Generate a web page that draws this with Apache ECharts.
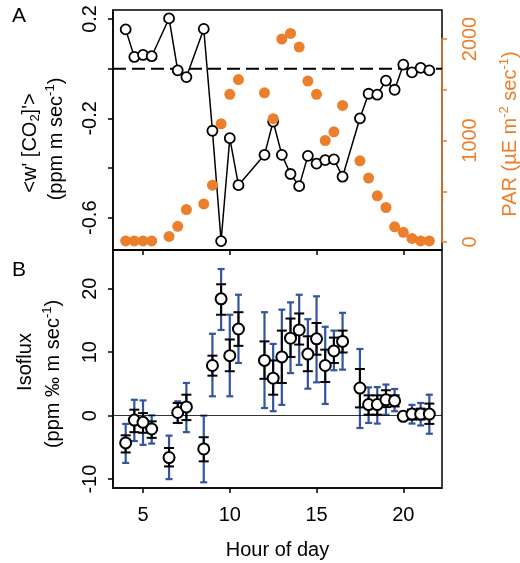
<!DOCTYPE html>
<html>
<head>
<meta charset="utf-8">
<script src="https://cdn.jsdelivr.net/npm/echarts@6.0.0/dist/echarts.min.js"></script>
<style>
  html, body { margin: 0; padding: 0; background: #fff; }
  #chart { width: 520px; height: 563px; }
</style>
</head>
<body>
<div id="chart"></div>
<script>
// hour of day for every sample
var hours = [4, 4.5, 5, 5.5, 6.5, 7, 7.5, 8.5, 9, 9.5, 10, 10.5, 12, 12.5, 13, 13.5, 14, 14.5, 15, 15.5, 16, 16.5, 17.5, 18, 18.5, 19, 19.5, 20, 20.5, 21, 21.5];

// panel A
var co2Flux = [0.158, 0.047, 0.055, 0.05, 0.202, -0.007, -0.034, 0.16, -0.25, -0.694, -0.28, -0.469, -0.347, -0.213, -0.347, -0.424, -0.473, -0.351, -0.382, -0.368, -0.365, -0.435, -0.2, -0.101, -0.105, -0.048, -0.085, 0.016, -0.015, 0.003, -0.007];
var par = [10, 10, 10, 10, 55, 155, 320, 375, 560, 1165, 1455, 1600, 1470, 1215, 2000, 2055, 1920, 1585, 1455, 1000, 1085, 1345, 800, 630, 455, 340, 150, 95, 35, 10, 10];

// panel B
var isoflux = [-4.3, -0.7, -1.05, -2.1, -6.6, 0.5, 1.37, -5.25, 7.9, 18.4, 9.45, 13.65, 8.7, 5.9, 9.25, 12.2, 13.5, 9.7, 12.1, 7.9, 10.2, 11.7, 4.35, 1.75, 1.75, 2.5, 2.35, -0.1, 0.25, 0.25, 0.25];
var seLow = [-5.8, -2.6, -2.7, -3.5, -8.0, -1.15, -0.7, -7.2, 6.3, 15.9, 7.0, 11.0, 5.8, 3.3, 5.15, 9.25, 11.2, 7.0, 9.6, 5.3, 8.3, 9.95, 1.3, 0.15, 0.15, 1.35, 1.45, -0.6, -0.6, -0.6, -1.3];
var seHigh = [-3.1, 0.94, 0.4, -0.9, -5.1, 2.0, 3.3, -3.4, 9.45, 20.7, 12.0, 16.3, 11.7, 8.7, 13.4, 15.3, 16.1, 12.5, 14.6, 10.4, 12.3, 13.4, 7.35, 3.2, 3.2, 4.0, 3.2, 0.3, 0.95, 1.1, 1.9];
var ciLow = [-7.45, -4.0, -4.6, -4.4, -10.0, -1.15, -2.6, -10.5, 3.05, 13.5, 3.05, 8.3, 1.2, 0.7, 1.7, 6.7, 8.0, 4.25, 5.25, 1.85, 7.15, 7.25, -1.95, -1.15, -1.25, 0.15, 0.7, -0.8, -1.25, -1.55, -2.85];
var ciHigh = [-1.3, 2.5, 2.4, 0.05, -3.15, 2.25, 5.15, 0, 12.9, 23.1, 15.9, 19.05, 16.3, 11.3, 16.7, 17.85, 19.05, 15.2, 18.8, 14.0, 13.4, 16.2, 10.5, 4.45, 4.5, 4.9, 4.2, 0.6, 1.7, 2.0, 3.3];

// tick labels
var hourTicks = [5, 10, 15, 20];
var co2Ticks = [0.2, 0, -0.2, -0.4, -0.6];
var co2Labels = [0.2, -0.2, -0.6];
var parLabels = [0, 1000, 2000];
var isoTicks = [-10, 0, 10, 20];

var FONT = 'Liberation Sans, Arial, Helvetica, sans-serif';
var ORANGE = '#EC7F2B';
var BLUE = '#34549E';

function pairs(xs, ys) {
    return xs.map(function (x, i) { return [x, ys[i]]; });
}

var barData = hours.map(function (h, i) {
    return [h, isoflux[i], ciLow[i], ciHigh[i], seLow[i], seHigh[i]];
});

function renderErrorBar(params, api) {
    var h = api.value(0);
    var ciL = api.coord([h, api.value(2)]);
    var ciH = api.coord([h, api.value(3)]);
    var seL = api.coord([h, api.value(4)]);
    var seH = api.coord([h, api.value(5)]);
    var blue = { stroke: BLUE, lineWidth: 2.2 };
    var black = { stroke: '#000', lineWidth: 2 };
    var x = ciL[0];
    function seg(x1, y1, x2, y2, style) {
        return { type: 'line', shape: { x1: x1, y1: y1, x2: x2, y2: y2 }, style: style };
    }
    return {
        type: 'group',
        children: [
            seg(x, ciL[1], x, ciH[1], blue),
            seg(x - 3.5, ciL[1], x + 3.5, ciL[1], blue),
            seg(x - 3.5, ciH[1], x + 3.5, ciH[1], blue),
            seg(x, seL[1], x, seH[1], black),
            seg(x - 5, seL[1], x + 5, seL[1], black),
            seg(x - 5, seH[1], x + 5, seH[1], black)
        ]
    };
}

function vtext(x, y, rich, text, color) {
    return {
        type: 'text', x: x, y: y, rotation: Math.PI / 2,
        style: {
            text: text, rich: rich, fill: color || '#000',
            font: '20px ' + FONT, align: 'center', verticalAlign: 'middle'
        }
    };
}

function richFor(color) {
    return {
        t: { fontSize: 20, fontFamily: FONT, color: color, lineHeight: 24, verticalAlign: 'middle' },
        sub: { fontSize: 13, fontFamily: FONT, color: color, lineHeight: 13, verticalAlign: 'bottom' },
        sup: { fontSize: 13, fontFamily: FONT, color: color, lineHeight: 13, verticalAlign: 'top' }
    };
}

var xMin = 3.27, xMax = 22.23;
var axisText = { fontSize: 20, fontFamily: FONT, color: '#000' };

var chart = echarts.init(document.getElementById('chart'));
chart.setOption({
    animation: false,
    grid: [
        { left: 113, right: 78, top: 10, height: 240, show: true, borderColor: '#000', borderWidth: 1.5 },
        { left: 113, right: 78, top: 39, height: 203 },
        { left: 113, right: 78, top: 250, height: 238, show: true, borderColor: '#000', borderWidth: 1.5 }
    ],
    xAxis: [
        {
            gridIndex: 0, type: 'value', min: xMin, max: xMax,
            axisLine: { onZero: false, lineStyle: { color: '#000', width: 1.5 } },
            axisTick: { customValues: hourTicks, length: 5, lineStyle: { color: '#000', width: 1.5 } },
            axisLabel: { show: false }, splitLine: { show: false }
        },
        { gridIndex: 1, type: 'value', min: xMin, max: xMax, show: false },
        {
            gridIndex: 2, type: 'value', min: xMin, max: xMax,
            name: 'Hour of day', nameLocation: 'middle', nameGap: 52,
            nameTextStyle: axisText,
            axisLine: { onZero: false, lineStyle: { color: '#000', width: 1.5 } },
            axisTick: { customValues: hourTicks, length: 5, lineStyle: { color: '#000', width: 1.5 } },
            axisLabel: Object.assign({ customValues: hourTicks, margin: 17 }, axisText),
            splitLine: { show: false }
        }
    ],
    yAxis: [
        {
            gridIndex: 0, type: 'value', min: -0.73, max: 0.236,
            axisLine: { show: true, onZero: false, lineStyle: { color: '#000', width: 1.5 } },
            axisTick: { customValues: co2Ticks, length: 5, lineStyle: { color: '#000', width: 1.5 } },
            axisLabel: Object.assign({ customValues: co2Labels, rotate: 90, margin: 13 }, axisText),
            splitLine: { show: false }
        },
        {
            gridIndex: 1, type: 'value', position: 'right', min: 0, max: 2000, interval: 500,
            axisLine: { show: true, onZero: false, lineStyle: { color: ORANGE, width: 1.5 } },
            axisTick: { show: true, length: 5, lineStyle: { color: ORANGE, width: 1.5 } },
            axisLabel: {
                customValues: parLabels, rotate: 90, margin: 18, fontSize: 20, fontFamily: FONT, color: ORANGE,
                formatter: function (v) { return String(v); }
            },
            splitLine: { show: false }
        },
        {
            gridIndex: 2, type: 'value', min: -11.4, max: 26.1,
            axisLine: { show: true, onZero: false, lineStyle: { color: '#000', width: 1.5 } },
            axisTick: { customValues: isoTicks, length: 5, lineStyle: { color: '#000', width: 1.5 } },
            axisLabel: Object.assign({ customValues: isoTicks, rotate: 90, margin: 13 }, axisText),
            splitLine: { show: false }
        }
    ],
    series: [
        {
            // dashed zero reference in panel A
            type: 'line', xAxisIndex: 0, yAxisIndex: 0, z: 2, silent: true,
            data: [[xMin, 0], [xMax, 0]], symbol: 'none',
            lineStyle: { color: '#000', width: 2, type: [13, 6] }
        },
        {
            type: 'line', xAxisIndex: 0, yAxisIndex: 0, z: 3,
            data: pairs(hours, co2Flux),
            symbol: 'circle', symbolSize: 10, showSymbol: true,
            lineStyle: { color: '#000', width: 1.5 },
            itemStyle: { color: '#fff', borderColor: '#000', borderWidth: 1.8 }
        },
        {
            type: 'scatter', xAxisIndex: 1, yAxisIndex: 1, z: 4, clip: false,
            data: pairs(hours, par),
            symbol: 'circle', symbolSize: 11,
            itemStyle: { color: ORANGE, opacity: 1 }
        },
        {
            type: 'custom', xAxisIndex: 2, yAxisIndex: 2, z: 3,
            data: barData, renderItem: renderErrorBar,
            encode: { x: 0, y: [2, 3] },
            markLine: {
                silent: true, symbol: 'none', label: { show: false },
                lineStyle: { color: '#000', width: 0.8, type: 'solid' },
                data: [{ yAxis: 0 }]
            }
        },
        {
            type: 'scatter', xAxisIndex: 2, yAxisIndex: 2, z: 5,
            data: pairs(hours, isoflux),
            symbol: 'circle', symbolSize: 11,
            itemStyle: { color: '#fff', borderColor: '#000', borderWidth: 2, opacity: 1 }
        }
    ],
    graphic: [
        { type: 'text', left: 12, top: 6, style: { text: 'A', font: '21px ' + FONT, fill: '#000' } },
        { type: 'text', left: 12, top: 260, style: { text: 'B', font: '21px ' + FONT, fill: '#000' } },
        vtext(30, 143, richFor('#000'), "{t|<w' [CO}{sub|2}{t|]'>}"),
        vtext(56, 139, richFor('#000'), '{t|(ppm m sec}{sup|-1}{t|)}'),
        vtext(25, 362, richFor('#000'), '{t|Isoflux}'),
        vtext(53, 374, richFor('#000'), '{t|(ppm \u2030 m sec}{sup|-1}{t|)}'),
        vtext(510, 134, richFor(ORANGE), '{t|PAR (\u00b5E m}{sup|-2}{t| sec}{sup|-1}{t|)}', ORANGE)
    ]
});
</script>
</body>
</html>
